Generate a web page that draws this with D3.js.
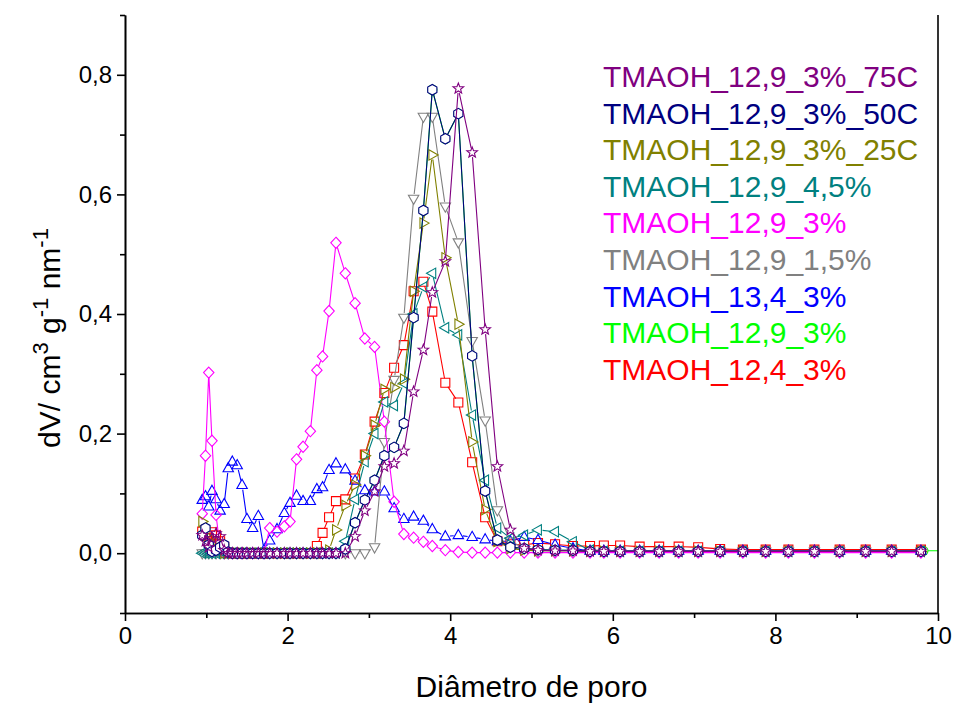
<!DOCTYPE html>
<html>
<head>
<meta charset="utf-8">
<script src="https://cdn.jsdelivr.net/npm/d3@7"></script>
<style>
  html, body { margin: 0; padding: 0; background: #fff; }
  svg { display: block; font-family: "Liberation Sans", Arial, sans-serif; }
</style>
</head>
<body>
<svg id="chart" width="955" height="703"></svg>
<script>
// Pore diameter grid (nm) shared by the BJH distributions
const diameters = [0.95, 0.99, 1.03, 1.07, 1.12, 1.17, 1.22, 1.27, 1.32, 1.38,
  1.44, 1.50, 1.57, 1.64, 1.71, 1.78, 1.87, 1.96, 2.03, 2.11,
  2.19, 2.28, 2.36, 2.43, 2.51, 2.595, 2.71, 2.83, 2.95, 3.07,
  3.19, 3.31, 3.43, 3.55, 3.67, 3.78, 3.94, 4.10, 4.27, 4.43,
  4.58, 4.74, 4.91, 5.08, 5.29, 5.51, 5.72, 5.89, 6.09, 6.33,
  6.57, 6.81, 7.05, 7.32, 7.60, 7.88, 8.16, 8.48, 8.79, 9.11,
  9.43, 9.79];
const greenDiameters = [0.95, 0.99, 1.03, 1.07, 1.12, 1.17, 1.22, 1.27, 1.32, 1.38,
  1.44, 1.50, 1.57, 1.64, 1.71, 1.78, 1.87, 1.96, 2.03, 2.11,
  2.19, 2.28, 2.36, 2.43, 2.51, 2.595, 2.71, 2.83, 2.95, 3.07,
  3.19, 3.31, 3.43, 3.55, 3.67, 3.78, 3.94, 4.10, 4.27, 4.43,
  4.58, 4.74, 4.91, 5.08, 5.29, 5.51, 5.72, 5.89, 6.09, 6.33,
  6.57, 6.81, 7.05, 7.32, 7.60, 7.88, 8.16, 8.48, 8.79, 9.11,
  9.43, 9.82, 10.16];

// dV (cm3 g-1 nm-1) for each sample
const tmaoh129_75C = [0.030, 0.020, 0.010, 0.025, 0.033, 0.028, 0.005, 0, 0, 0,
  0, 0, 0, 0, 0, 0, 0, 0, 0, 0,
  0, 0, 0, 0, 0, 0, 0.000, 0.028, 0.071, 0.103,
  0.145, 0.150, 0.171, 0.270, 0.340, 0.436, 0.488, 0.777, 0.670, 0.374,
  0.145, 0.039, 0.008, 0.005, 0.004, 0.004, 0.003, 0.003, 0.003, 0.003,
  0.003, 0.003, 0.003, 0.003, 0.003, 0.003, 0.003, 0.003, 0.003, 0.003,
  0.003, 0.003];
const tmaoh129_50C = [0.030, 0.042, 0.014, 0.003, 0.005, 0.010, 0.014, 0.002, 0, 0,
  0, 0, 0, 0, 0, 0, 0, 0, 0, 0,
  0, 0, 0, 0, 0, 0, 0.007, 0.051, 0.089, 0.122,
  0.163, 0.177, 0.217, 0.394, 0.573, 0.775, 0.693, 0.735, 0.330, 0.104,
  0.022, 0.010, 0.008, 0.006, 0.005, 0.005, 0.003, 0.003, 0.003, 0.003,
  0.003, 0.003, 0.003, 0.003, 0.003, 0.003, 0.003, 0.003, 0.003, 0.003,
  0.003, 0.003];
const tmaoh129_25C = [0.053, 0.030, 0.020, 0.012, 0.020, 0.008, 0, 0, 0, 0,
  0, 0, 0, 0, 0, 0, 0, 0, 0, 0,
  0, 0, 0, 0, 0.005, 0.039, 0.080, 0.114, 0.163, 0.214,
  0.274, 0.277, 0.291, 0.438, 0.552, 0.666, 0.494, 0.383, 0.186, 0.073,
  0.020, 0.008, 0.005, 0.004, 0.004, 0.004, 0.003, 0.003, 0.003, 0.003,
  0.003, 0.003, 0.003, 0.003, 0.003, 0.003, 0.003, 0.003, 0.003, 0.003,
  0.003, 0.003];
const tmaoh129_45 = [0, 0, 0, 0, 0, 0, 0, 0, 0, 0,
  0, 0, 0, 0, 0, 0, 0, 0, 0, 0,
  0, 0, 0, 0, 0, 0, 0.020, 0.090, 0.153, 0.200,
  0.253, 0.247, 0.284, 0.400, 0.445, 0.468, 0.377, 0.365, 0.231, 0.122,
  0.042, 0.025, 0.030, 0.039, 0.036, 0.019, 0.005, 0.003, 0.003, 0.003,
  0.003, 0.003, 0.003, 0.003, 0.003, 0.003, 0.003, 0.003, 0.003, 0.003,
  0.003, 0.003];
const tmaoh129_3 = [0.066, 0.163, 0.302, 0.188, 0.064, 0.008, 0, 0, 0, 0,
  0, 0, 0, 0, 0, 0.042, 0.036, 0.045, 0.053, 0.157,
  0.178, 0.204, 0.306, 0.329, 0.405, 0.519, 0.468, 0.418, 0.359, 0.345,
  0.220, 0.086, 0.032, 0.026, 0.019, 0.012, 0.005, 0.002, 0.001, 0.001,
  0.001, 0.001, 0.001, 0.001, 0.001, 0.001, 0.001, 0.001, 0.001, 0.001,
  0.001, 0.001, 0.001, 0.001, 0.001, 0.001, 0.001, 0.001, 0.001, 0.001,
  0.001, 0.001];
const tmaoh129_15 = [0, 0, 0, 0, 0, 0, 0, 0, 0, 0,
  0, 0, 0, 0, 0, 0, 0, 0, 0, 0,
  0, 0, 0, 0, 0, 0, 0, 0, 0, 0.010,
  0.186, 0.290, 0.394, 0.593, 0.730, 0.730, 0.580, 0.520, 0.355, 0.222,
  0.072, 0.020, 0.008, 0.004, 0.004, 0.004, 0.003, 0.003, 0.003, 0.003,
  0.003, 0.003, 0.003, 0.003, 0.003, 0.003, 0.003, 0.003, 0.003, 0.003,
  0.003, 0.003];
const tmaoh134_3 = [0.089, 0.095, 0.078, 0.104, 0.090, 0.071, 0.082, 0.142, 0.153, 0.147,
  0.114, 0.057, 0.042, 0.062, 0.005, 0.021, 0.040, 0.067, 0.084, 0.096,
  0.087, 0.087, 0.107, 0.110, 0.139, 0.150, 0.140, 0.121, 0.105, 0.103,
  0.103, 0.075, 0.057, 0.061, 0.054, 0.040, 0.028, 0.030, 0.027, 0.023,
  0.020, 0.020, 0.027, 0.022, 0.014, 0.008, 0.004, 0.004, 0.004, 0.004,
  0.004, 0.004, 0.004, 0.004, 0.004, 0.004, 0.004, 0.004, 0.004, 0.004,
  0.004, 0.004];
// Second 12,9_3% run: practically coincides with the 50C curve
const tmaoh129_3b = [0.030, 0.042, 0.014, 0.003, 0.005, 0.010, 0.014, 0.002, 0, 0,
  0, 0, 0, 0, 0, 0, 0, 0, 0, 0,
  0, 0, 0, 0, 0, 0, 0.007, 0.051, 0.089, 0.122,
  0.163, 0.177, 0.217, 0.394, 0.573, 0.775, 0.693, 0.735, 0.330, 0.104,
  0.022, 0.010, 0.008, 0.006, 0.005, 0.005, 0.003, 0.003, 0.003, 0.003,
  0.003, 0.003, 0.003, 0.003, 0.003, 0.003, 0.003, 0.003, 0.003, 0.003,
  0.003, 0.004, 0.004];
const tmaoh124_3 = [0.036, 0.030, 0.025, 0.035, 0.030, 0.020, 0.010, 0, 0, 0,
  0, 0, 0, 0, 0, 0, 0, 0, 0, 0,
  0, 0, 0.012, 0.034, 0.060, 0.087, 0.090, 0.125, 0.165, 0.220,
  0.268, 0.310, 0.348, 0.438, 0.454, 0.404, 0.285, 0.252, 0.152, 0.060,
  0.020, 0.015, 0.014, 0.017, 0.015, 0.012, 0.012, 0.013, 0.013, 0.011,
  0.011, 0.011, 0.010, 0.007, 0.006, 0.006, 0.006, 0.006, 0.006, 0.006,
  0.006, 0.006];

// Axis ticks
const xMajorTicks = [0, 2, 4, 6, 8, 10];
const xMinorTicks = [1, 3, 5, 7, 9];
const yMajorTicks = [0, 0.2, 0.4, 0.6, 0.8];
const yMinorTicks = [-0.1, 0.1, 0.3, 0.5, 0.7, 0.9];

// Drawing order (first = bottom); the legend lists them top-down in reverse
const series = [
  { name: "TMAOH_12,4_3%", color: "#ff0000", symbol: "square", x: diameters, y: tmaoh124_3 },
  { name: "TMAOH_12,9_3%", color: "#00ff00", symbol: "circle", x: greenDiameters, y: tmaoh129_3b },
  { name: "TMAOH_13,4_3%", color: "#0000ff", symbol: "up", x: diameters, y: tmaoh134_3 },
  { name: "TMAOH_12,9_1,5%", color: "#808080", symbol: "down", x: diameters, y: tmaoh129_15 },
  { name: "TMAOH_12,9_3%", color: "#ff00ff", symbol: "diamond", x: diameters, y: tmaoh129_3 },
  { name: "TMAOH_12,9_4,5%", color: "#008080", symbol: "left", x: diameters, y: tmaoh129_45 },
  { name: "TMAOH_12,9_3%_25C", color: "#808000", symbol: "right", x: diameters, y: tmaoh129_25C },
  { name: "TMAOH_12,9_3%_50C", color: "#000080", symbol: "hexagon", fill: "#ffffff", x: diameters, y: tmaoh129_50C },
  { name: "TMAOH_12,9_3%_75C", color: "#800080", symbol: "star", x: diameters, y: tmaoh129_75C }
];

const svg = d3.select("#chart");
const plotL = 125, plotR = 938, plotT = 15, plotB = 613;
const x = d3.scaleLinear().domain([0, 10]).range([plotL, plotR]);
const y = d3.scaleLinear().domain([-0.1, 0.9]).range([plotB, plotT]);

svg.append("defs").append("clipPath").attr("id", "plotClip")
  .append("rect").attr("x", plotL).attr("y", plotT - 10)
  .attr("width", plotR - plotL).attr("height", plotB - plotT + 10);

// Hollow marker outlines centred on the origin
function symbolPath(type) {
  switch (type) {
    case "square": return "M-4.5,-4.5H4.5V4.5H-4.5Z";
    case "circle": return d3.symbol(d3.symbolCircle, Math.PI * 4.6 * 4.6)();
    case "up": return "M0,-5.8L5.2,3.4L-5.2,3.4Z";
    case "down": return "M0,5.8L5.2,-3.4L-5.2,-3.4Z";
    case "left": return "M-5.8,0L3.4,-5.2L3.4,5.2Z";
    case "right": return "M5.8,0L-3.4,-5.2L-3.4,5.2Z";
    case "diamond": return "M0,-5.6L5.2,0L0,5.6L-5.2,0Z";
    case "hexagon": {
      const pts = d3.range(6).map(i => {
        const a = Math.PI / 6 + i * Math.PI / 3;
        return [5.3 * Math.cos(a), 5.3 * Math.sin(a)];
      });
      return "M" + pts.map(p => p[0].toFixed(2) + "," + p[1].toFixed(2)).join("L") + "Z";
    }
    case "star": {
      const pts = d3.range(10).map(i => {
        const r = i % 2 === 0 ? 5.6 : 2.4;
        const a = -Math.PI / 2 + i * Math.PI / 5;
        return [r * Math.cos(a), r * Math.sin(a)];
      });
      return "M" + pts.map(p => p[0].toFixed(2) + "," + p[1].toFixed(2)).join("L") + "Z";
    }
  }
  return "";
}

// Connecting line, broken where it meets each marker
function gappedLine(pts, gap) {
  let d = "";
  for (let i = 0; i < pts.length - 1; i++) {
    const [x0, y0] = pts[i], [x1, y1] = pts[i + 1];
    const dx = x1 - x0, dy = y1 - y0;
    const len = Math.hypot(dx, dy);
    if (len <= 2 * gap) continue;
    const ux = dx / len, uy = dy / len;
    d += "M" + (x0 + ux * gap).toFixed(2) + "," + (y0 + uy * gap).toFixed(2) +
         "L" + (x1 - ux * gap).toFixed(2) + "," + (y1 - uy * gap).toFixed(2);
  }
  return d;
}

const plot = svg.append("g").attr("clip-path", "url(#plotClip)");
series.forEach(s => {
  const pts = s.y.map((v, i) => [x(s.x[i]), y(v)]);
  const g = plot.append("g");
  g.append("path")
    .attr("d", gappedLine(pts, 4.6))
    .attr("fill", "none")
    .attr("stroke", s.color)
    .attr("stroke-width", 1.1);
  g.selectAll("path.mk").data(pts).enter().append("path")
    .attr("class", "mk")
    .attr("d", symbolPath(s.symbol))
    .attr("transform", p => `translate(${p[0]},${p[1]})`)
    .attr("fill", s.fill || "none")
    .attr("stroke", s.color)
    .attr("stroke-width", 1.1);
});

// Axes
const fmt = d => d.toFixed(1).replace(".", ",");
const axisStyle = g => {
  g.select(".domain").attr("stroke", "#000").attr("stroke-width", 1.6);
  g.selectAll(".tick line").attr("stroke", "#000").attr("stroke-width", 1.6);
  g.selectAll(".tick text").attr("fill", "#000").attr("font-size", 24)
    .attr("font-family", "'Liberation Sans', Arial, sans-serif");
};

svg.append("g").attr("transform", `translate(0,${plotB})`)
  .call(d3.axisBottom(x).tickValues(xMinorTicks).tickSize(5).tickFormat("").tickSizeOuter(0))
  .call(axisStyle);
svg.append("g").attr("transform", `translate(0,${plotB})`)
  .call(d3.axisBottom(x).tickValues(xMajorTicks).tickSize(8).tickPadding(6)
    .tickFormat(d3.format("d")).tickSizeOuter(0))
  .call(axisStyle);

svg.append("g").attr("transform", `translate(${plotL},0)`)
  .call(d3.axisLeft(y).tickValues(yMinorTicks).tickSize(5).tickFormat("").tickSizeOuter(0))
  .call(axisStyle);
svg.append("g").attr("transform", `translate(${plotL},0)`)
  .call(d3.axisLeft(y).tickValues(yMajorTicks).tickSize(8).tickPadding(5)
    .tickFormat(fmt).tickSizeOuter(0))
  .call(axisStyle);

// Right frame line
svg.append("line")
  .attr("x1", plotR).attr("x2", plotR).attr("y1", plotT).attr("y2", plotB)
  .attr("stroke", "#000").attr("stroke-width", 1.6);

// Axis titles
svg.append("text")
  .attr("x", (plotL + plotR) / 2).attr("y", 697)
  .attr("text-anchor", "middle").attr("font-size", 30).attr("fill", "#000")
  .text("Diâmetro de poro");

const yTitle = svg.append("text")
  .attr("transform", "translate(60,338) rotate(-90)")
  .attr("text-anchor", "middle").attr("font-size", 30).attr("fill", "#000");
yTitle.append("tspan").text("dV/ cm");
yTitle.append("tspan").attr("dy", -12).attr("font-size", 22).text("3");
yTitle.append("tspan").attr("dy", 12).text(" g");
yTitle.append("tspan").attr("dy", -12).attr("font-size", 22).text("-1");
yTitle.append("tspan").attr("dy", 12).text(" nm");
yTitle.append("tspan").attr("dy", -12).attr("font-size", 22).text("-1");

// Legend: coloured text only
const legendOrder = series.slice().reverse();
svg.append("g").selectAll("text").data(legendOrder).enter().append("text")
  .attr("x", 603)
  .attr("y", (d, i) => 87 + i * 36.6)
  .attr("font-size", 30)
  .attr("fill", d => d.color)
  .text(d => d.name);
</script>
</body>
</html>
